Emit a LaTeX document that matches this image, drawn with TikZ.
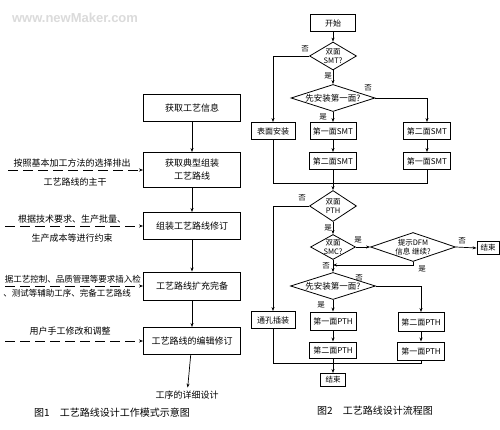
\documentclass[tikz,border=0pt]{standalone}
\usepackage{fontspec}
\setmainfont{Noto Sans CJK SC}
\newfontfamily\wmfont{Liberation Sans}
\usetikzlibrary{shapes.geometric,arrows.meta}
\begin{document}
\begin{tikzpicture}[x=1pt,y=-1pt,
  box/.style={draw, line width=0.9pt, inner sep=0pt, align=center},
  lbox/.style={box, minimum width=97pt, minimum height=27pt, font=\fontsize{9}{13}\selectfont},
  rbox/.style={box, minimum width=46pt, minimum height=17pt, font=\fontsize{8}{9}\selectfont},
  dia/.style={diamond, draw, line width=0.8pt, inner sep=0pt},
  dlab/.style={font=\fontsize{7.5}{8.5}\selectfont, align=center, inner sep=0pt},
  arr/.style={-{Stealth[length=4pt,width=3pt]}, line width=0.7pt},
  ln/.style={line width=0.7pt},
  yn/.style={font=\fontsize{7.5}{8}\selectfont, inner sep=0pt},
  inarr/.style={-{Stealth[length=4pt,width=3pt]}, line width=0.8pt, dash pattern=on 10pt off 5pt},
  side/.style={font=\fontsize{9}{10}\selectfont, inner sep=0pt},
  captxt/.style={font=\fontsize{10}{11}\selectfont, inner sep=0pt}
]
\path[use as bounding box, fill=white] (0,0) rectangle (500,430);
\clip (0,0) rectangle (500,430);

% watermark
\node[font=\wmfont\bfseries\fontsize{13}{14}\selectfont, text=black!14, inner sep=0pt] (wm) at (75,18) {www.newMaker.com};

% ---------- Figure 1 ----------
\node[lbox] (L1) at (192,108) {获取工艺信息};
\node[lbox, minimum height=35pt] (L2) at (192,170) {获取典型组装\\工艺路线};
\node[lbox] (L3) at (192,226) {组装工艺路线修订};
\node[lbox, minimum height=28pt] (L4) at (192,286) {工艺路线扩充完备};
\node[lbox] (L5) at (192,341) {工艺路线的编辑修订};
\node[side, inner sep=3pt] (out) at (187,395) {工序的详细设计};

\draw[arr] (L1) -- (L2);
\draw[arr] (L2) -- (L3);
\draw[arr] (L3) -- (L4);
\draw[arr] (L4) -- (L5);
\draw[arr] (L5) -- (out);

\node[side] (s1a) at (72,163) {按照基本加工方法的选择排出};
\node[side] (s1b) at (75,182) {工艺路线的主干};
\coordinate (i1) at (8,170);
\draw[inarr] (i1) -- (i1 -| L2.west);

\node[side] (s2a) at (72,219) {根据技术要求、生产批量、};
\node[side] (s2b) at (72,238) {生产成本等进行约束};
\coordinate (i2) at (5,226);
\draw[inarr] (i2) -- (L3.west);

\node[side, anchor=east, font=\fontsize{8.5}{9}\selectfont] (s3a) at (141,279) {据工艺控制、品质管理等要求插入检};
\node[side, anchor=east, font=\fontsize{8.5}{9}\selectfont] (s3b) at (131,293) {、测试等辅助工序、完备工艺路线};
\coordinate (i3) at (5,286);
\draw[inarr] (i3) -- (L4.west);

\node[side] (s4a) at (70,331) {用户手工修改和调整};
\coordinate (i4) at (5,341);
\draw[inarr] (i4) -- (L5.west);

\node[captxt] (cap1) at (112,413) {图1\quad 工艺路线设计工作模式示意图};

% ---------- Figure 2 ----------
\node[rbox, minimum width=45pt] (st) at (333,23) {开始};
\node[dia, minimum width=47pt, minimum height=28pt,
      label={[dlab]center:{双面\\SMT?}}] (d1) at (333,56) {};
\node[dia, minimum width=84pt, minimum height=27pt,
      label={[dlab, font=\fontsize{8.5}{9}\selectfont]center:{先安装第一面?}}] (d2) at (333,98) {};
\node[rbox, minimum width=44pt] (b1) at (273,131) {表面安装};
\node[rbox] (b2) at (333,131) {第一面SMT};
\node[rbox, minimum width=47pt] (b3) at (427,131) {第二面SMT};
\node[rbox, minimum width=47pt] (b4) at (333,161) {第二面SMT};
\node[rbox, minimum width=47pt] (b5) at (427,161) {第一面SMT};
\coordinate (m1) at (333,183);

\draw[arr] (st) -- (d1);
\draw[arr] (d1.west) -| (b1.north);
\draw[arr] (d1.south) -- (d2.north);
\draw[arr] (d2.east) -| (b3.north);
\draw[arr] (d2.south) -- (b2.north);
\draw[arr] (b2) -- (b4);
\draw[arr] (b3) -- (b5);
\draw[ln] (b1.south) |- (m1);
\draw[ln] (b5.south) |- (m1);

\node[yn] (n1) at (305,49) {否};
\node[yn] (y1) at (328,76) {是};
\node[yn] (n2) at (368,88) {否};
\node[yn] (y2) at (323,117) {是};

\node[dia, minimum width=47pt, minimum height=31pt,
      label={[dlab]center:{双面\\PTH}}] (d3) at (333,206) {};
\node[dia, minimum width=45pt, minimum height=25pt,
      label={[dlab]center:{双面\\SMC?}}] (d4) at (333,247) {};
\node[dia, minimum width=85pt, minimum height=29pt,
      label={[dlab]center:{提示DFM\\信息\ 继续?}}] (d5) at (413,247) {};
\node[box, minimum width=22pt, minimum height=13pt, font=\fontsize{7.5}{8}\selectfont] (e1) at (488,248) {结束};
\coordinate (j) at (333,265);
\node[dia, minimum width=85pt, minimum height=27pt,
      label={[dlab, font=\fontsize{8.5}{9}\selectfont]center:{先安装第一面?}}] (d6) at (333,286) {};
\node[rbox, minimum width=44pt] (c1) at (273,320) {通孔插装};
\node[rbox, minimum height=18pt] (c2) at (333,321) {第一面PTH};
\node[rbox, minimum height=19pt] (c3) at (421,322) {第二面PTH};
\node[rbox, minimum width=47pt, minimum height=16pt] (c4) at (333,350) {第二面PTH};
\node[rbox, minimum width=47pt, minimum height=18pt] (c5) at (421,351) {第一面PTH};
\coordinate (m2) at (333,363);
\node[box, minimum width=25pt, minimum height=13pt, font=\fontsize{7.5}{8}\selectfont] (e2) at (333,380) {结束};

\draw[arr] (b4.south) -- (d3.north);
\draw[arr] (d3.west) -| (c1.north);
\draw[arr] (d3.south) -- (d4.north);
\draw[arr] (d4.east) -- (d5.west);
\draw[arr] (d5.east) -- (e1.west);
\draw[arr] (d5.south) |- (j);
\draw[arr] (d4.south) -- (d6.north);
\draw[arr] (d6.east) -| (c3.north);
\draw[arr] (d6.south) -- (c2.north);
\draw[arr] (c2) -- (c4);
\draw[arr] (c3) -- (c5);
\draw[ln] (c1.south) |- (m2);
\draw[ln] (c5.south) |- (m2);
\draw[arr] (c4.south) -- (e2.north);

\node[yn] (n3) at (302,198) {否};
\node[yn] (y3) at (328,228) {是};
\node[yn] (y4) at (358,240) {是};
\node[yn] (n4) at (462,241) {否};
\node[yn] (y5) at (422,269) {是};
\node[yn] (n5) at (326,266) {否};
\node[yn] (n6) at (359,278) {否};
\node[yn] (y6) at (321,305) {是};

\node[captxt] (cap2) at (375,411) {图2\quad 工艺路线设计流程图};
\end{tikzpicture}
\end{document}
